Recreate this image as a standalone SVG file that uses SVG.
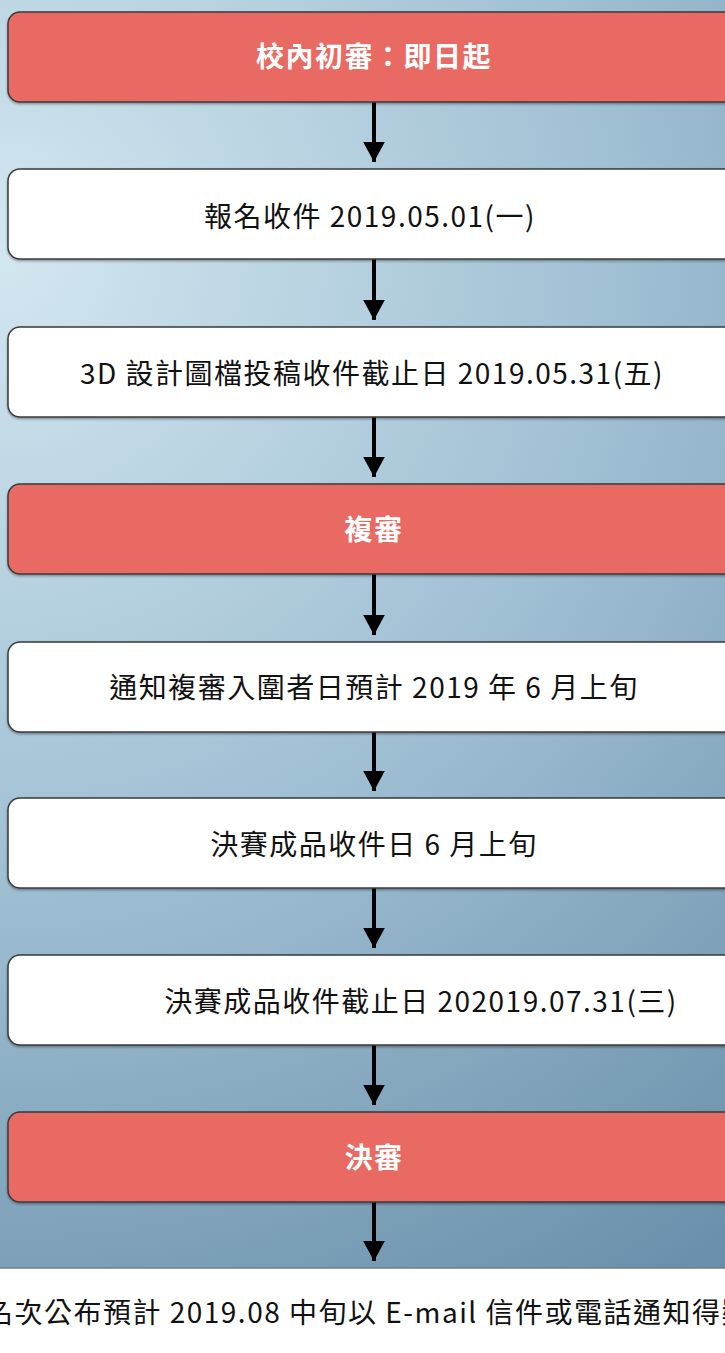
<svg xmlns="http://www.w3.org/2000/svg" width="725" height="1353" viewBox="0 0 725 1353">
<style>
.box{stroke:#3a3a3a;stroke-width:1.5}
.red{fill:#e96a64}
.white{fill:#ffffff}
.t{font-family:"Noto Sans CJK TC","Noto Sans",sans-serif;font-size:28px;letter-spacing:1.5px;text-anchor:middle;dominant-baseline:central}
.tw{fill:#ffffff;font-weight:bold}
.tb{fill:#111111}
.arrow{stroke:#000;stroke-width:4;fill:none;marker-end:url(#ah)}
</style>
<defs>
<radialGradient id="bg" gradientUnits="userSpaceOnUse" cx="0" cy="250" r="1250">
<stop offset="0" stop-color="#d3e7f0"/>
<stop offset="0.5" stop-color="#9fbfd3"/>
<stop offset="1" stop-color="#698ea9"/>
</radialGradient>
<marker id="ah" markerWidth="6" markerHeight="6" refX="5" refY="3" orient="auto" markerUnits="strokeWidth">
<path d="M0,0.3 L5,3 L0,5.7 Z" fill="#000"/>
</marker>
<filter id="sh" x="-5%" y="-10%" width="110%" height="130%">
<feDropShadow dx="0" dy="1.5" stdDeviation="1" flood-color="#000" flood-opacity="0.35"/>
</filter>
</defs>
<rect x="0" y="0" width="725" height="1268" fill="url(#bg)"/>
<rect x="0" y="1268" width="725" height="85" fill="#ffffff"/>
<line x1="0" y1="1268" x2="725" y2="1268" stroke="#6c7f8c" stroke-width="1.5"/>
<g id="connectors">
<line class="arrow" x1="374" y1="102" x2="374" y2="162"/>
<line class="arrow" x1="374" y1="259" x2="374" y2="320"/>
<line class="arrow" x1="374" y1="417" x2="374" y2="477"/>
<line class="arrow" x1="374" y1="574" x2="374" y2="635"/>
<line class="arrow" x1="374" y1="732" x2="374" y2="791"/>
<line class="arrow" x1="374" y1="888" x2="374" y2="948"/>
<line class="arrow" x1="374" y1="1045" x2="374" y2="1105"/>
<line class="arrow" x1="374" y1="1202" x2="374" y2="1261"/>
</g>
<g id="n1"><rect class="box red" filter="url(#sh)" x="8" y="12" width="730" height="90" rx="12"/><text class="t tw" x="374" y="55">校內初審：即日起</text></g>
<g id="n2"><rect class="box white" filter="url(#sh)" x="8" y="169" width="730" height="90" rx="12"/><text class="t tb" x="370" y="215">報名收件 2019.05.01(一)</text></g>
<g id="n3"><rect class="box white" filter="url(#sh)" x="8" y="327" width="730" height="90" rx="12"/><text class="t tb" x="372" y="372">3D 設計圖檔投稿收件截止日 2019.05.31(五)</text></g>
<g id="n4"><rect class="box red" filter="url(#sh)" x="8" y="484" width="730" height="90" rx="12"/><text class="t tw" x="374" y="528">複審</text></g>
<g id="n5"><rect class="box white" filter="url(#sh)" x="8" y="642" width="730" height="90" rx="12"/><text class="t tb" x="374" y="686">通知複審入圍者日預計 2019 年 6 月上旬</text></g>
<g id="n6"><rect class="box white" filter="url(#sh)" x="8" y="798" width="730" height="90" rx="12"/><text class="t tb" x="374" y="843">決賽成品收件日 6 月上旬</text></g>
<g id="n7"><rect class="box white" filter="url(#sh)" x="8" y="955" width="730" height="90" rx="12"/><text class="t tb" x="421" y="1000">決賽成品收件截止日 202019.07.31(三)</text></g>
<g id="n8"><rect class="box red" filter="url(#sh)" x="8" y="1112" width="730" height="90" rx="12"/><text class="t tw" x="374" y="1156">決審</text></g>
<g id="n9"><text class="t tb" x="368" y="1311">名次公布預計 2019.08 中旬以 E-mail 信件或電話通知得獎</text></g>
</svg>
